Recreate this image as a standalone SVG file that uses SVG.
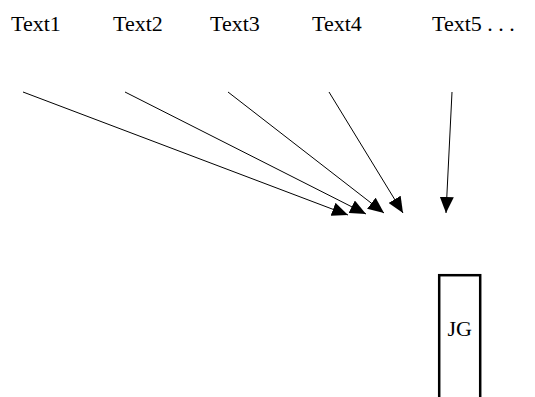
<svg xmlns="http://www.w3.org/2000/svg" width="535" height="397" viewBox="0 0 535 397">
<style>
text{font-family:"Liberation Serif","Times New Roman",serif;font-size:22px;fill:#000}
.c{stroke:#000;stroke-width:1;fill:none;marker-end:url(#ah)}
</style>
<defs>
<marker id="ah" viewBox="0 0 16 14" refX="16" refY="7" markerWidth="16" markerHeight="14" markerUnits="userSpaceOnUse" orient="auto">
<path d="M0,0 L16,7 L0,14 Z" fill="#000"/>
</marker>
</defs>
<rect width="535" height="397" fill="#fff"/>
<g id="text1"><text x="11" y="31">Text1</text></g>
<g id="text2"><text x="113" y="31">Text2</text></g>
<g id="text3"><text x="210" y="31">Text3</text></g>
<g id="text4"><text x="312" y="31">Text4</text></g>
<g id="text5"><text x="432" y="31">Text5 . . .</text></g>
<g id="jg">
<rect x="439.2" y="275.2" width="41" height="140" fill="#fff" stroke="#000" stroke-width="2.5"/>
<text x="459.7" y="336" text-anchor="middle">JG</text>
</g>
<g id="connectors">
<line class="c" x1="23" y1="92" x2="348" y2="215"/>
<line class="c" x1="125" y1="92" x2="366" y2="214"/>
<line class="c" x1="228" y1="92" x2="384" y2="213"/>
<line class="c" x1="329" y1="92" x2="403" y2="213"/>
<line class="c" x1="452" y1="92" x2="446" y2="213"/>
</g>
</svg>
